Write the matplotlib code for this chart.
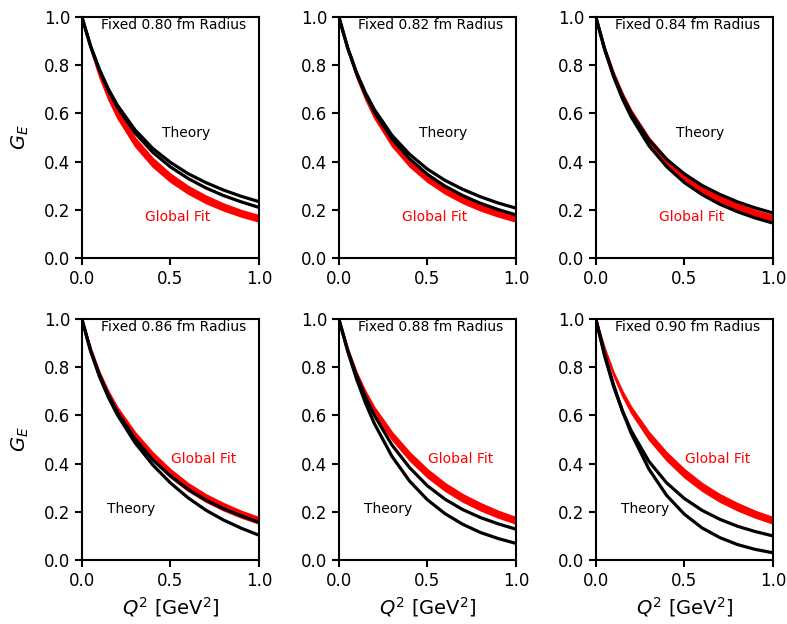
import matplotlib
matplotlib.use("Agg")
import matplotlib.pyplot as plt

# Q^2 grid (GeV^2) the curves were read at
q2 = [0, 0.05, 0.1, 0.15, 0.2, 0.3, 0.4, 0.5, 0.6, 0.7, 0.8, 0.9, 1.0]

radii = ["0.80", "0.82", "0.84", "0.86", "0.88", "0.90"]

# global fit band (red): top row and bottom row
fit_top_hi = [1, .875, .772, .686, .614, .500, .415, .350, .299, .259, .226, .199, .178]
fit_top_lo = [1, .861, .748, .657, .581, .464, .379, .316, .267, .228, .197, .172, .151]
fit_bot_hi = [1, .880, .780, .701, .635, .531, .447, .377, .319, .273, .236, .204, .178]
fit_bot_lo = [1, .870, .764, .679, .609, .499, .413, .343, .287, .242, .206, .176, .151]

# theory band edges (black), one row per panel
theory_a = [
    [1, .878, .781, .701, .635, .532, .455, .397, .350, .313, .282, .256, .234],
    [1, .872, .769, .686, .617, .509, .430, .369, .322, .285, .254, .228, .207],
    [1, .866, .759, .672, .601, .490, .409, .349, .301, .264, .233, .208, .187],
    [1, .868, .766, .684, .614, .503, .416, .349, .293, .249, .213, .183, .157],
    [1, .870, .765, .677, .601, .477, .383, .308, .252, .209, .176, .150, .128],
    [1, .845, .720, .619, .536, .409, .320, .255, .206, .169, .140, .118, .100],
]
theory_b = [
    [1, .877, .778, .695, .627, .519, .439, .378, .330, .291, .259, .233, .210],
    [1, .871, .766, .679, .607, .494, .411, .347, .298, .259, .227, .201, .179],
    [1, .864, .753, .661, .585, .466, .379, .313, .263, .223, .192, .166, .145],
    [1, .865, .760, .675, .603, .487, .395, .320, .258, .207, .166, .132, .103],
    [1, .866, .751, .652, .567, .430, .327, .250, .192, .148, .114, .089, .069],
    [1, .853, .727, .618, .525, .377, .268, .190, .133, .093, .064, .044, .030],
]

plt.rcParams['axes.linewidth'] = 1.5
plt.rcParams['xtick.major.width'] = 1.5
plt.rcParams['ytick.major.width'] = 1.5
plt.rcParams['xtick.major.size'] = 5
plt.rcParams['ytick.major.size'] = 5

fig, axes = plt.subplots(2, 3, figsize=(7.87, 6.24), dpi=100)
fig.subplots_adjust(left=0.104, right=0.982, bottom=0.1026, top=0.9728,
                    wspace=0.452, hspace=0.253)

for i, ax in enumerate(axes.flat):
    if i < 3:
        ax.fill_between(q2, fit_top_lo, fit_top_hi, color='red', lw=1)
    else:
        ax.fill_between(q2, fit_bot_lo, fit_bot_hi, color='red', lw=1)
    ax.plot(q2, theory_a[i], color='black', lw=2.3)
    ax.plot(q2, theory_b[i], color='black', lw=2.3)
    ax.set_xlim(0, 1)
    ax.set_ylim(0, 1)
    ax.set_xticks([0, 0.5, 1.0])
    ax.set_yticks([0, 0.2, 0.4, 0.6, 0.8, 1.0])
    ax.tick_params(labelsize=12)
    ax.text(0.52, 0.965, "Fixed " + radii[i] + " fm Radius", fontsize=10,
            ha='center', va='center')
    if i < 3:
        ax.text(0.59, 0.52, "Theory", fontsize=10, ha='center', va='center')
        ax.text(0.54, 0.17, "Global Fit", fontsize=10, color='red',
                ha='center', va='center')
    else:
        ax.text(0.28, 0.21, "Theory", fontsize=10, ha='center', va='center')
        ax.text(0.69, 0.42, "Global Fit", fontsize=10, color='red',
                ha='center', va='center')
    if i % 3 == 0:
        ax.set_ylabel("$G_E$", fontsize=14, labelpad=9)
    if i >= 3:
        ax.set_xlabel("$Q^2$ [GeV$^2$]", fontsize=14)

fig.savefig("out.png", dpi=100)
